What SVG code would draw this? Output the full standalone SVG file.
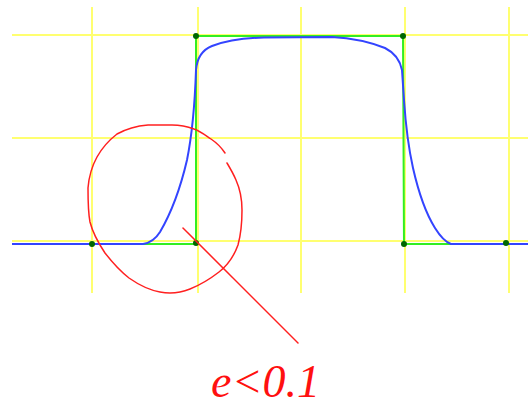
<svg xmlns="http://www.w3.org/2000/svg" width="528" height="407" viewBox="0 0 528 407">
<style>
.grid{stroke:#ffff70;stroke-width:2;fill:none}
.poly{stroke:#33ee22;stroke-width:2;fill:none}
.curve{stroke:#3344ff;stroke-width:2;fill:none;stroke-linejoin:round}
.red{stroke:#ff2020;stroke-width:1.5;fill:none;stroke-linejoin:round;stroke-linecap:round}
.dot{fill:#006600}
</style>
<rect width="528" height="407" fill="#ffffff"/>
<g id="grid">
<line class="grid" x1="92" y1="7" x2="92" y2="293"/>
<line class="grid" x1="198" y1="7" x2="198" y2="293"/>
<line class="grid" x1="301" y1="7" x2="301" y2="293"/>
<line class="grid" x1="405" y1="7" x2="405" y2="293"/>
<line class="grid" x1="509" y1="7" x2="509" y2="293"/>
<line class="grid" x1="12" y1="35" x2="528" y2="35"/>
<line class="grid" x1="12" y1="138" x2="528" y2="138"/>
<line class="grid" x1="12" y1="241" x2="528" y2="241"/>
</g>
<g id="control-polygon">
<polyline class="poly" points="38,244 196,244 196,36 403,36 404,244 455,244"/>
</g>
<g id="curve">
<path class="curve" d="M12,244 L143,244 C150,243 155,240 160,232 C170,215 180,190 187,160 C192,135 195,100 196,70 C197,58 202,50 212,46 C225,41 240,38 264,37.5 L332,37 C350,38 370,42 385,48 C395,53 400,60 402,70 L404,100 C406,130 409,150 413,168 C418,190 425,212 435,228 C440,236 445,242 451,244 L528,244"/>
</g>
<g id="points">
<circle class="dot" cx="92" cy="244" r="3"/>
<circle class="dot" cx="196" cy="243" r="3"/>
<circle class="dot" cx="196" cy="36" r="3"/>
<circle class="dot" cx="403" cy="36" r="3"/>
<circle class="dot" cx="404" cy="244" r="3"/>
<circle class="dot" cx="506" cy="243" r="3"/>
</g>
<g id="annotation">
<path class="red" d="M225,153 C221,147 217,143 211,139 C205,135 200,131 194,129 C186,126 180,125 172,125 L148,125 C136,126 126,129 117,134 C108,141 102,148 97,157 C92,166 89,176 88,188 C88,200 88,212 90,222 C93,234 99,244 105,253 C112,262 120,271 129,278 C139,285 149,290 160,292 C170,294 180,293 190,289 C200,285 210,279 219,272 C228,265 234,256 238,245 C241,234 242,222 242,210 C242,198 240,189 236,180 C233,173 230,168 227,163"/>
<line class="red" x1="183" y1="228" x2="298" y2="343"/>
<text x="211" y="397" font-family="'Liberation Serif', 'Times New Roman', serif" font-style="italic" font-size="46" fill="#ff1010">e&lt;0.1</text>
</g>
</svg>
